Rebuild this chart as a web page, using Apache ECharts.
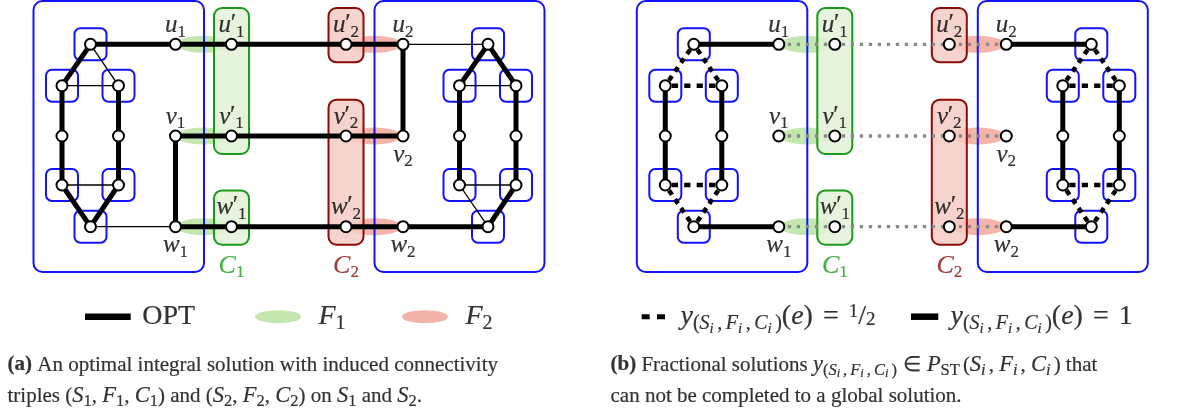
<!DOCTYPE html>
<html><head><meta charset="utf-8">
<script src="https://cdn.jsdelivr.net/npm/echarts@6/dist/echarts.min.js"></script>
<style>html,body{margin:0;padding:0;background:#fff}#c{width:1184px;height:410px}</style>
</head><body><div id="c"></div>
<script>
// ---------------- data ----------------
// graph vertices of panel (a); panel (b) is the same graph shifted right
const nodeNames = ['At','Aul','Aur','Aml','Amr','All','Alr','Ab',
  'u1','v1','w1','u1p','v1p','w1p','u2p','v2p','w2p','u2','v2','w2',
  'Bt','Bul','Bur','Bml','Bmr','Bll','Blr','Bb'];
const nodeX = [90.5,62,118.5,62,118.5,62,118.5,90.5,
  175.5,175.5,175.5,231.5,231.5,231.5,346,346,346,403,403,403,
  488,459.5,516,459.5,516,459.5,516,488];
const nodeY = [44.3,85.7,85.7,136,136,185,185,226.7,
  44.3,136,226.7,44.3,136,226.7,44.3,136,226.7,44.3,136,226.7,
  44.3,85.7,85.7,136,136,185,185,226.7];
const panelShift = [0, 603.3];

// panel (a): OPT edges (thick) and remaining edges (thin)
const edgesOpt = [['At','u1'],['u1','u1p'],['u1p','u2p'],['u2p','u2'],['At','Aul'],['Aul','Aml'],['Aml','All'],
  ['Aur','Amr'],['Amr','Alr'],['All','Ab'],['Alr','Ab'],['v1','v1p'],['v1p','v2p'],['v2p','v2'],['v1','w1'],
  ['u2','v2'],['w1','w1p'],['w1p','w2p'],['w2p','w2'],['w2','Bb'],['Bt','Bul'],['Bt','Bur'],['Bul','Bml'],
  ['Bml','Bll'],['Bur','Bmr'],['Bmr','Blr'],['Blr','Bb']];
const edgesOther = [['At','Aur'],['Aul','Aur'],['All','Alr'],['Ab','w1'],['u2','Bt'],['Bul','Bur'],['Bll','Blr'],['Bll','Bb']];
// panel (b): y = 1, y = 1/2, and cut (dotted) connections
const edgesY1 = [['At','u1'],['Aul','Aml'],['Aml','All'],['Aur','Amr'],['Amr','Alr'],['Ab','w1'],['u2','Bt'],['w2','Bb'],
  ['Bul','Bml'],['Bml','Bll'],['Bur','Bmr'],['Bmr','Blr']];
const edgesYHalf = [['At','Aul'],['At','Aur'],['Aul','Aur'],['All','Alr'],['All','Ab'],['Alr','Ab'],
  ['Bt','Bul'],['Bt','Bur'],['Bul','Bur'],['Bll','Blr'],['Bll','Bb'],['Blr','Bb']];
const edgesCut = [['u1','u2'],['v1','v2'],['w1','w2']];

// terminal pairs F1, F2
const pairsF1 = [['u1','u1p'],['v1','v1p'],['w1','w1p']];
const pairsF2 = [['u2p','u2'],['v2p','v2'],['w2p','w2']];

// vertex groups: S1, S2, components of C1 and C2, boxed hexagon corners
const groupS1 = ['At','Aul','Aur','Aml','Amr','All','Alr','Ab','u1','v1','w1'];
const groupS2 = ['Bt','Bul','Bur','Bml','Bmr','Bll','Blr','Bb','u2','v2','w2'];
const groupsC1 = [['u1p','v1p'],['w1p']];
const groupsC2 = [['u2p'],['v2p','w2p']];
const cornerNodes = ['At','Aul','Aur','All','Alr','Ab','Bt','Bul','Bur','Bll','Blr','Bb'];

// vertex labels: [vertex, text, side]
const vertexLabels = [
  ['u1','{m|u}{s|1}','up'],['v1','{m|v}{s|1}','up'],['w1','{m|w}{s|1}','down'],
  ['u1p','{m|u}{p|′}{s|1}','up'],['v1p','{m|v}{p|′}{s|1}','up'],['w1p','{m|w}{p|′}{s|1}','up'],
  ['u2p','{m|u}{p|′}{s|2}','up'],['v2p','{m|v}{p|′}{s|2}','up'],['w2p','{m|w}{p|′}{s|2}','up'],
  ['u2','{m|u}{s|2}','up'],['v2','{m|v}{s|2}','down'],['w2','{m|w}{s|2}','down'],
  ['w1p','{g|C}{gs|1}','comp'],['w2p','{r|C}{rs|2}','comp']
];

// legend entries
const ySubL = '{L|y}{Ls|(}{Lsi|S}{Lss|i}{Lq| }{Ls|,}{Lq| }{Lsi|F}{Lss|i}{Lq| }{Ls|,}{Lq| }{Lsi|C}{Lss|i}{Lq| }{Ls|)}';
const legendA = ['{Lr|OPT}','{L|F}{Ls|1}','{L|F}{Ls|2}'];
const legendB = [ySubL + '{Lr|(}{L|e}{Lr|)}{Lw| }{Lr|=}{Lw| }{Lfn|1}{Lr|/}{Lfd|2}',
                 ySubL + '{Lr|(}{L|e}{Lr|)}{Lw| }{Lr|=}{Lw| }{Lr|1}'];

// caption lines
const ySubK = '{ki|y}{ks|(}{ksi|S}{kss|i}{kq| }{ks|,}{kq| }{ksi|F}{kss|i}{kq| }{ks|,}{kq| }{ksi|C}{kss|i}{kq| }{ks|)}';
const captionA = ['{kb|(a)}{k| An optimal integral solution with induced connectivity}',
  '{k|triples (}{ki|S}{ks|1}{k|, }{ki|F}{ks|1}{k|, }{ki|C}{ks|1}{k|) and (}{ki|S}{ks|2}{k|, }{ki|F}{ks|2}{k|, }{ki|C}{ks|2}{k|) on }{ki|S}{ks|1}{k| and }{ki|S}{ks|2}{k|.}'];
const captionB = ['{kb|(b)}{k| Fractional solutions }' + ySubK + '{kw| }{k|∈}{kw| }{ki|P}{ks|ST}{kq| }{k|(}{ki|S}{ksi|i}{kq| }{k|, }{ki|F}{ksi|i}{kq| }{k|, }{ki|C}{ksi|i}{kq| }{k|) that}',
  '{k|can not be completed to a global solution.}'];

// ---------------- layout / style ----------------
const SERIF = "'Liberation Serif','Times New Roman',serif";
function tok(size, shift, H, italic, weight, color, width) {
  const pt = H / 2 + shift - size / 2;
  const c = color || '#000';
  const o = {fontFamily: SERIF, fontSize: size, lineHeight: size, padding: [pt, 0, H - size - pt, 0],
    fontStyle: italic ? 'italic' : 'normal', fontWeight: weight || 'normal', color: c,
    textBorderColor: c, textBorderWidth: 0.2};
  if (width != null) o.width = width;
  return o;
}
const GREEN = '#1a9a1a', DARKRED = '#8b0b0b';
const RICH = {
  m: tok(25, 0, 40, true), p: tok(25, -1, 40, false, null, null, 5), s: tok(17, 7, 40, false),
  g: tok(26, 0, 40, true, null, GREEN), gs: tok(17, 7, 40, false, null, GREEN),
  r: tok(26, 0, 40, true, null, DARKRED), rs: tok(17, 7, 40, false, null, DARKRED),
  L: tok(28, 0, 46, true), Lr: tok(28, 0, 46, false), Ls: tok(20, 7, 46, false), Lsi: tok(20, 7, 46, true),
  Lss: tok(15, 12, 46, true), Lq: tok(15, 7, 46, false, null, null, 3.5), Lw: tok(28, 0, 46, false, null, null, 10),
  Lfn: tok(19, -5, 46, false), Lfd: tok(19, 3, 46, false),
  kb: tok(21, 0, 31, false, 'bold'), k: tok(21, 0, 31, false), ki: tok(22.5, 0, 31, true),
  ks: tok(16.5, 5.5, 31, false), ksi: tok(16.5, 5.5, 31, true), kss: tok(12.5, 9, 31, true),
  kq: tok(12, 5.5, 31, false, null, null, 3), kw: tok(12, 0, 31, false, null, null, 6)
};
const labelOffset = {up: -19, down: 19, comp: 39};
const legendY = 316.7;
const legendMarksA = {line: [85, 130.7], text: [141.7, 318, 465], ell: [278, 425]};
const legendMarksB = {dash: [641.7, 665], line: [911, 938.3], text: [680, 950]};
const captionX = [7, 610], captionY = [365, 396];

const edgeStyles = {
  0: {color: '#000', width: 5},
  1: {color: '#000', width: 1.3},
  2: {color: '#000', width: 4.5, half: true, trim: 6.5},
  3: {color: '#8a8a8a', width: 3.3, dash: [3.3, 5.7]},
  4: {color: '#000', width: 6.5},
  5: {color: '#000', width: 5, dash: [8, 7.3]}
};
const boxStyles = {
  0: {stroke: '#1212ff', fill: null, lw: 2, r: 9, pad: [28.5, 43.3, 28.5, 45.3]},
  1: {stroke: '#1212ff', fill: null, lw: 2, r: 6, pad: [16, 16, 16, 16]},
  2: {stroke: GREEN, fill: 'rgba(226,242,216,0.85)', lw: 2, r: 8, pad: [17.5, 36.3, 17.5, 18]},
  3: {stroke: DARKRED, fill: 'rgba(245,205,196,0.85)', lw: 2, r: 8, pad: [17.5, 36.3, 17.5, 18]}
};
const ELL_F1 = '#b5e09b', ELL_F2 = '#f0a193';

// ---------------- build ----------------
const pos = {};
nodeNames.forEach((n, i) => pos[n] = [nodeX[i], nodeY[i]]);
const P = (n, s) => [pos[n][0] + s, pos[n][1]];

const edgeData = [];
function addEdges(list, kind, s) {
  list.forEach(([a, b]) => { const p = P(a, s), q = P(b, s); edgeData.push([p[0], p[1], q[0], q[1], kind]); });
}
addEdges(edgesOpt, 0, panelShift[0]);
addEdges(edgesOther, 1, panelShift[0]);
addEdges(edgesCut, 3, panelShift[1]);
addEdges(edgesY1, 0, panelShift[1]);
addEdges(edgesYHalf, 2, panelShift[1]);
edgeData.push([legendMarksA.line[0], legendY, legendMarksA.line[1], legendY, 4]);
edgeData.push([legendMarksB.dash[0], legendY, legendMarksB.dash[1], legendY, 5]);
edgeData.push([legendMarksB.line[0], legendY, legendMarksB.line[1], legendY, 4]);

function bbox(names, s) {
  const xs = names.map(n => P(n, s)[0]), ys = names.map(n => P(n, s)[1]);
  return [Math.min(...xs), Math.min(...ys), Math.max(...xs), Math.max(...ys)];
}
const boxData = [];
panelShift.forEach(s => {
  [groupS1, groupS2].forEach(g => boxData.push([...bbox(g, s), 0]));
  cornerNodes.forEach(n => boxData.push([...bbox([n], s), 1]));
  groupsC1.forEach(g => boxData.push([...bbox(g, s), 2]));
  groupsC2.forEach(g => boxData.push([...bbox(g, s), 3]));
});

const ellData = [];
panelShift.forEach(s => {
  [[pairsF1, ELL_F1], [pairsF2, ELL_F2]].forEach(([pairs, col]) => pairs.forEach(([a, b]) => {
    const p = P(a, s), q = P(b, s);
    ellData.push({value: [(p[0] + q[0]) / 2, (p[1] + q[1]) / 2], symbolSize: [54, 17], itemStyle: {color: col}});
  }));
});
ellData.push({value: [legendMarksA.ell[0], legendY], symbolSize: [46, 13], itemStyle: {color: ELL_F1}});
ellData.push({value: [legendMarksA.ell[1], legendY], symbolSize: [46, 13], itemStyle: {color: ELL_F2}});

const nodeData = [];
panelShift.forEach(s => nodeNames.forEach(n => nodeData.push(P(n, s))));

const labelData = [];
panelShift.forEach(s => vertexLabels.forEach(([n, t, side]) => {
  labelData.push({value: P(n, s), txt: t, label: {position: 'inside', offset: [0, labelOffset[side]]}});
}));
const leftLabel = (x, y, t) => labelData.push({value: [x, y], txt: t, label: {position: 'right', distance: 0}});
legendA.forEach((t, i) => leftLabel(legendMarksA.text[i], legendY, t));
legendB.forEach((t, i) => leftLabel(legendMarksB.text[i], legendY, t));
[captionA, captionB].forEach((lines, c) => lines.forEach((t, i) => leftLabel(captionX[c], captionY[i], t)));

function renderEdge(params, api) {
  const st = edgeStyles[api.value(4)];
  let a = api.coord([api.value(0), api.value(1)]), b = api.coord([api.value(2), api.value(3)]);
  let dash = st.dash || null;
  if (st.trim) {
    const dx = b[0] - a[0], dy = b[1] - a[1], L = Math.hypot(dx, dy), ux = dx / L, uy = dy / L;
    a = [a[0] + ux * st.trim, a[1] + uy * st.trim];
    b = [b[0] - ux * st.trim, b[1] - uy * st.trim];
  }
  if (st.half) {
    const L = Math.hypot(b[0] - a[0], b[1] - a[1]);
    const n = Math.max(2, Math.round((L + 6) / 12));
    const u = L / (2 * n - 1);
    dash = [u, u];
  }
  return {type: 'line', shape: {x1: a[0], y1: a[1], x2: b[0], y2: b[1]},
    style: {stroke: st.color, lineWidth: st.width, lineDash: dash, lineCap: 'butt', fill: null}};
}
function renderBox(params, api) {
  const st = boxStyles[api.value(4)];
  const a = api.coord([api.value(0), api.value(1)]), b = api.coord([api.value(2), api.value(3)]);
  const x0 = Math.min(a[0], b[0]) - st.pad[0], x1 = Math.max(a[0], b[0]) + st.pad[2];
  const y0 = Math.min(a[1], b[1]) - st.pad[1], y1 = Math.max(a[1], b[1]) + st.pad[3];
  return {type: 'rect', shape: {x: x0, y: y0, width: x1 - x0, height: y1 - y0, r: st.r},
    style: {stroke: st.stroke, lineWidth: st.lw, fill: st.fill || 'transparent'}};
}

const chart = echarts.init(document.getElementById('c'), null, {renderer: 'canvas'});
chart.setOption({
  animation: false,
  backgroundColor: '#fff',
  grid: {left: 0, right: 0, top: 0, bottom: 0},
  xAxis: {type: 'value', min: 0, max: 1184, show: false},
  yAxis: {type: 'value', min: 0, max: 410, inverse: true, show: false},
  series: [
    {type: 'scatter', z: 1, silent: true, symbol: 'circle', data: ellData},
    {type: 'custom', z: 2, silent: true, renderItem: renderBox, data: boxData, encode: {x: [0, 2], y: [1, 3]}, clip: false},
    {type: 'custom', z: 3, silent: true, renderItem: renderEdge, data: edgeData, encode: {x: [0, 2], y: [1, 3]}, clip: false},
    {type: 'scatter', z: 4, silent: true, symbol: 'circle', symbolSize: 11, data: nodeData,
      itemStyle: {color: '#fff', borderColor: '#000', borderWidth: 2, opacity: 1}},
    {type: 'scatter', z: 5, silent: true, symbolSize: 1, itemStyle: {color: 'transparent'}, data: labelData,
      label: {show: true, color: '#000', rich: RICH, fontFamily: SERIF, formatter: p => p.data.txt}}
  ]
});
</script></body></html>
